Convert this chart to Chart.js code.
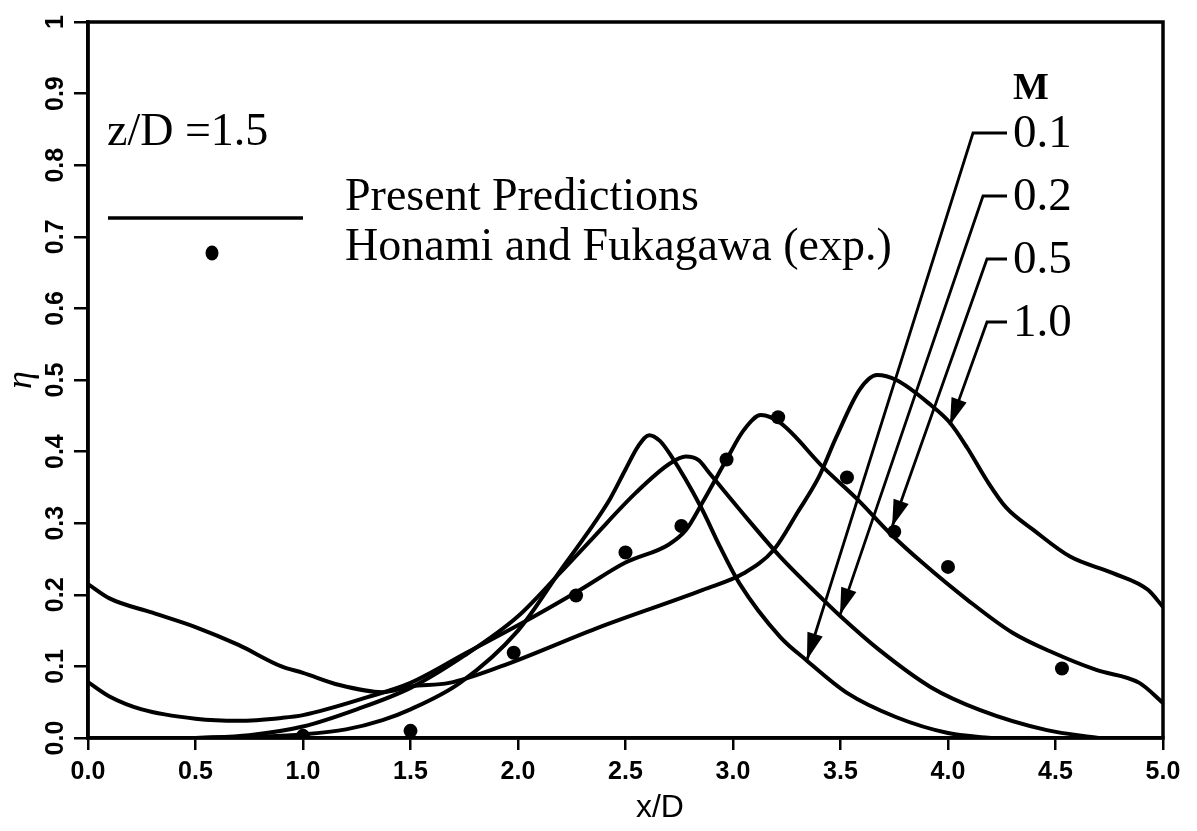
<!DOCTYPE html>
<html>
<head>
<meta charset="utf-8">
<script src="https://cdn.jsdelivr.net/npm/chart.js@4.4.1/dist/chart.umd.min.js"></script>
<style>
  html, body { margin: 0; padding: 0; background: #fff; }
  canvas { display: block; }
</style>
</head>
<body>
<canvas id="effChart" width="1197" height="831"></canvas>
<script>
// values (x/D, eta)
var m01X = [0.5, 0.8, 1.0, 1.2, 1.37, 1.5, 1.73, 2.0, 2.2, 2.32, 2.43, 2.5, 2.56, 2.61, 2.66, 2.71, 2.85, 2.94, 3.03, 3.22, 3.34, 3.53, 3.76, 4.0, 4.2];
var m01Y = [0, 0.002, 0.005, 0.012, 0.025, 0.04, 0.077, 0.15, 0.235, 0.285, 0.335, 0.375, 0.408, 0.423, 0.415, 0.395, 0.323, 0.267, 0.216, 0.141, 0.109, 0.063, 0.029, 0.007, 0];

var m02X = [0.5, 0.75, 1.0, 1.25, 1.5, 1.75, 2.0, 2.2, 2.35, 2.55, 2.71, 2.78, 2.84, 2.89, 3.07, 3.22, 3.42, 3.5, 3.68, 3.92, 4.15, 4.46, 4.7];
var m02Y = [0, 0.004, 0.016, 0.04, 0.07, 0.115, 0.17, 0.232, 0.28, 0.343, 0.384, 0.393, 0.388, 0.37, 0.305, 0.253, 0.193, 0.17, 0.123, 0.071, 0.039, 0.011, 0];

var m05X = [0, 0.1, 0.25, 0.5, 0.7, 0.9, 1.0, 1.3, 1.5, 1.76, 2.07, 2.29, 2.5, 2.7, 2.78, 2.86, 2.97, 3.05, 3.13, 3.22, 3.42, 3.58, 3.73, 3.88, 4.09, 4.3, 4.49, 4.69, 4.89, 5.0];
var m05Y = [0.078, 0.058, 0.04, 0.027, 0.024, 0.028, 0.032, 0.057, 0.077, 0.119, 0.169, 0.207, 0.245, 0.27, 0.29, 0.33, 0.389, 0.43, 0.451, 0.44, 0.378, 0.333, 0.286, 0.245, 0.193, 0.147, 0.119, 0.095, 0.077, 0.049];

var m10X = [0, 0.1, 0.3, 0.5, 0.7, 0.9, 1.0, 1.17, 1.37, 1.5, 1.68, 1.92, 2.38, 2.86, 3.05, 3.19, 3.3, 3.4, 3.48, 3.59, 3.67, 3.76, 3.92, 4.01, 4.09, 4.18, 4.27, 4.4, 4.57, 4.77, 4.93, 5.0];
var m10Y = [0.215, 0.195, 0.175, 0.155, 0.13, 0.1, 0.091, 0.074, 0.064, 0.072, 0.077, 0.1, 0.155, 0.207, 0.23, 0.263, 0.315, 0.365, 0.42, 0.487, 0.507, 0.50, 0.465, 0.44, 0.405, 0.36, 0.322, 0.29, 0.253, 0.23, 0.207, 0.183];

// Honami and Fukagawa experiment
var expX = [1.0, 1.5, 1.98, 2.27, 2.5, 2.76, 2.97, 3.21, 3.53, 3.75, 4.0, 4.53];
var expY = [0.003, 0.01, 0.119, 0.199, 0.259, 0.296, 0.389, 0.448, 0.364, 0.288, 0.239, 0.097];

// M labels and where each arrow lands on its curve
var machLabels = ['0.1', '0.2', '0.5', '1.0'];
var arrowTipX = [3.344, 3.498, 3.74, 4.009];
var arrowTipY = [0.109, 0.172, 0.295, 0.437];

function toPoints(xs, ys) {
  return xs.map(function(x, i) { return {x: x, y: ys[i]}; });
}

function curve(xs, ys) {
  return {
    data: toPoints(xs, ys),
    showLine: true,
    borderColor: '#000',
    borderWidth: 4,
    pointRadius: 0,
    cubicInterpolationMode: 'monotone',
    fill: false
  };
}

var serif = '"Liberation Serif", "Times New Roman", serif';

var overlay = {
  id: 'overlay',
  afterDraw: function(chart) {
    var ctx = chart.ctx;
    var a = chart.chartArea;
    var xs = chart.scales.x, ys = chart.scales.y;
    ctx.save();

    // box
    ctx.strokeStyle = '#000';
    ctx.lineWidth = 3.5;
    ctx.strokeRect(a.left, a.top, a.right - a.left, a.bottom - a.top);

    // legend block
    ctx.fillStyle = '#000';
    ctx.textBaseline = 'alphabetic';
    ctx.textAlign = 'left';
    ctx.font = '46px ' + serif;
    ctx.fillText('z/D =1.5', a.left + 19, a.top + 123);
    ctx.fillText('Present Predictions', a.left + 257, a.top + 188);
    ctx.fillText('Honami and Fukagawa (exp.)', a.left + 257, a.top + 238);
    ctx.lineWidth = 3.5;
    ctx.beginPath();
    ctx.moveTo(a.left + 20, a.top + 196);
    ctx.lineTo(a.left + 215, a.top + 196);
    ctx.stroke();
    ctx.beginPath();
    ctx.ellipse(a.left + 124, a.top + 231, 6.5, 7.5, 0, 0, Math.PI * 2);
    ctx.fill();

    // M leaders
    var labelLeft = a.left + 925;
    var rowTop = a.top + 111;
    var rowGap = 63;
    var elbowGap = [40, 30, 26, 26];
    ctx.font = 'bold 38px ' + serif;
    ctx.textAlign = 'center';
    ctx.textBaseline = 'middle';
    ctx.fillText('M', labelLeft + 18, rowTop - 44);
    ctx.font = '47px ' + serif;
    ctx.textAlign = 'left';
    ctx.lineWidth = 2.8;
    machLabels.forEach(function(lab, i) {
      var ry = rowTop + i * rowGap;
      ctx.fillText(lab, labelLeft, ry + 2);
      var ex = labelLeft - elbowGap[i];
      var tx = xs.getPixelForValue(arrowTipX[i]);
      var ty = ys.getPixelForValue(arrowTipY[i]);
      ctx.beginPath();
      ctx.moveTo(labelLeft - 6, ry);
      ctx.lineTo(ex, ry);
      ctx.lineTo(tx, ty);
      ctx.stroke();
      var dx = tx - ex, dy = ty - ry;
      var len = Math.sqrt(dx * dx + dy * dy);
      var ux = dx / len, uy = dy / len;
      var bx = tx - ux * 27, by = ty - uy * 27;
      ctx.beginPath();
      ctx.moveTo(tx, ty);
      ctx.lineTo(bx - uy * 8, by + ux * 8);
      ctx.lineTo(bx + uy * 8, by - ux * 8);
      ctx.closePath();
      ctx.fill();
    });

    // x axis title
    ctx.font = '32px "Liberation Sans", Arial, sans-serif';
    ctx.textAlign = 'center';
    ctx.textBaseline = 'middle';
    ctx.fillText('x/D', xs.getPixelForValue(2.66), a.bottom + 70);
    ctx.restore();
  }
};

var tickFont = {family: '"Liberation Sans", Arial, sans-serif', size: 25, weight: 'bold'};

new Chart(document.getElementById('effChart'), {
  type: 'scatter',
  data: {
    datasets: [
      curve(m01X, m01Y),
      curve(m02X, m02Y),
      curve(m05X, m05Y),
      curve(m10X, m10Y),
      {
        data: toPoints(expX, expY),
        showLine: false,
        pointRadius: 7,
        pointBackgroundColor: '#000',
        pointBorderColor: '#000',
        pointBorderWidth: 0
      }
    ]
  },
  options: {
    responsive: false,
    animation: false,
    layout: {padding: {top: 22, right: 34, left: 0, bottom: 0}},
    plugins: {legend: {display: false}, tooltip: {enabled: false}},
    scales: {
      x: {
        type: 'linear',
        min: 0,
        max: 5,
        afterFit: function(scale) { scale.height = 93; },
        ticks: {
          stepSize: 0.5,
          color: '#000',
          font: tickFont,
          padding: 7,
          maxRotation: 0,
          callback: function(v) { return v.toFixed(1); }
        },
        grid: {drawOnChartArea: false, color: '#000', lineWidth: 2.5, tickLength: 12},
        border: {color: '#000', width: 3.5}
      },
      y: {
        min: 0,
        max: 1,
        afterFit: function(scale) { scale.width = 88; },
        ticks: {
          stepSize: 0.1,
          color: '#000',
          font: tickFont,
          minRotation: 90,
          maxRotation: 90,
          crossAlign: 'center',
          padding: 1,
          callback: function(v) { return Math.abs(v - 1) < 1e-9 ? '1' : v.toFixed(1); }
        },
        title: {
          display: true,
          text: 'η',
          color: '#000',
          font: {family: serif, size: 36, style: 'italic'},
          padding: {top: 0, bottom: 0}
        },
        grid: {drawOnChartArea: false, color: '#000', lineWidth: 2.5, tickLength: 14},
        border: {color: '#000', width: 3.5}
      }
    }
  },
  plugins: [overlay]
});
</script>
</body>
</html>
